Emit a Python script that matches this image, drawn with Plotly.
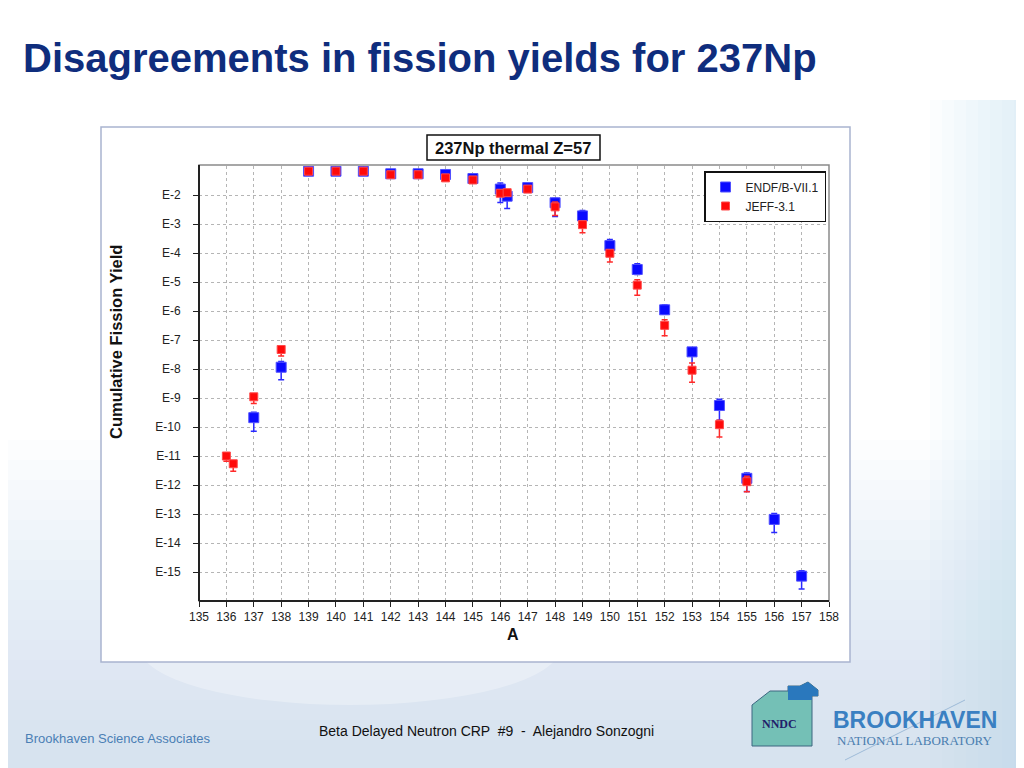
import plotly.graph_objects as go

# ENDF/B-VII.1 cumulative yields (Z=57, 237Np thermal)
ENDF_A = [137, 138, 139, 140, 141, 142, 143, 144, 145, 146, 146.25, 147,
          148, 149, 150, 151, 152, 153, 154, 155, 156, 157]
ENDF_Y = [2.1e-10, 1.15e-8, 6.6e-2, 6.6e-2, 6.6e-2, 5.4e-2, 5.4e-2, 5.1e-2, 3.7e-2,
          1.6e-2, 9.1e-3, 1.8e-2, 5.4e-3, 1.9e-3, 1.8e-4, 2.7e-5, 1.1e-6, 3.9e-8,
          5.5e-10, 1.7e-12, 6.5e-14, 7.2e-16]
ENDF_LO = [7.1e-11, 4.3e-9, None, None, None, None, None, None, None,
           5.5e-3, 3.4e-3, None, 1.8e-3, 1.4e-3, 1.1e-4, 1.8e-5, 7.9e-7, 1.05e-8,
           1.7e-10, 6.0e-13, 2.3e-14, 2.6e-16]
ENDF_HI = [3.2e-10, 1.8e-8, None, None, None, None, None, None, None,
           2.6e-2, 1.25e-2, None, 7.6e-3, 2.9e-3, 2.9e-4, 4.3e-5, 1.6e-6, 5.4e-8,
           9.1e-10, 2.6e-12, 1.05e-13, 1.1e-15]

# JEFF-3.1 cumulative yields
JEFF_A = [136, 136.25, 137, 138, 139, 140, 141, 142, 143, 144, 145, 146, 146.25,
          147, 148, 149, 150, 151, 152, 153, 154, 155]
JEFF_Y = [1.0e-11, 5.4e-12, 1.1e-9, 4.7e-8, 6.6e-2, 6.6e-2, 6.6e-2, 5.0e-2, 5.0e-2,
          3.9e-2, 3.3e-2, 1.15e-2, 1.2e-2, 1.6e-2, 3.9e-3, 9.5e-4, 9.8e-5, 7.8e-6,
          3.2e-7, 9.1e-9, 1.2e-10, 1.3e-12]
JEFF_LO = [6.6e-12, 3.0e-12, 6.5e-10, 2.8e-8, None, None, None, None, None,
           None, None, None, None, None, 1.95e-3, 5.0e-4, 4.9e-5, 3.5e-6,
           1.4e-7, 3.5e-9, 4.5e-11, 5.8e-13]
JEFF_HI = [None, None, 1.2e-9, 6.3e-8, None, None, None, None, None,
           None, None, None, None, None, 5.7e-3, None, None, 1.2e-5,
           5.0e-7, 1.6e-8, 1.7e-10, 2.0e-12]

Y_TICKS = [1e-2, 1e-3, 1e-4, 1e-5, 1e-6, 1e-7, 1e-8, 1e-9, 1e-10,
           1e-11, 1e-12, 1e-13, 1e-14, 1e-15]
Y_TICK_TEXT = ['E-2', 'E-3', 'E-4', 'E-5', 'E-6', 'E-7', 'E-8', 'E-9', 'E-10',
               'E-11', 'E-12', 'E-13', 'E-14', 'E-15']
X_TICKS = list(range(135, 159))

# page body has an 8px margin, keep figure inside the window
OFF = 8
W, H = 1024 - OFF, 768 - OFF
SANS = 'Liberation Sans, Arial'


def px(x):
    return (x - OFF) / W


def py(y):
    return 1 - (y - OFF) / H


def err_arrays(vals, lo, hi):
    plus = [(h - v) if h is not None else 0 for v, h in zip(vals, hi)]
    minus = [(v - l) if l is not None else 0 for v, l in zip(vals, lo)]
    return plus, minus


fig = go.Figure()

e_plus, e_minus = err_arrays(ENDF_Y, ENDF_LO, ENDF_HI)
fig.add_trace(go.Scatter(
    x=ENDF_A, y=ENDF_Y, mode='markers', name='ENDF/B-VII.1',
    marker=dict(symbol='square', size=10, color='#0a0aff',
                line=dict(color='#5050ff', width=1)),
    error_y=dict(type='data', symmetric=False, array=e_plus, arrayminus=e_minus,
                 color='#2a2aff', thickness=1.5, width=3),
))

j_plus, j_minus = err_arrays(JEFF_Y, JEFF_LO, JEFF_HI)
fig.add_trace(go.Scatter(
    x=JEFF_A, y=JEFF_Y, mode='markers', name='JEFF-3.1',
    marker=dict(symbol='square', size=8, color='#ff0a0a',
                line=dict(color='#ff4a4a', width=1)),
    error_y=dict(type='data', symmetric=False, array=j_plus, arrayminus=j_minus,
                 color='#ff2a2a', thickness=1.5, width=3),
))

# soft blue slide background, built from thin translucent bands
shapes = []
for i in range(16):
    top = 440 + i * 20
    shapes.append(dict(type='rect', xref='paper', yref='paper', x0=px(0), x1=px(1024),
                       y0=py(768), y1=py(top), fillcolor='rgba(175,208,234,0.045)',
                       line_width=0, layer='below'))
for i in range(8):
    left = 930 + i * 12
    shapes.append(dict(type='rect', xref='paper', yref='paper', x0=px(left), x1=px(1024),
                       y0=py(768), y1=py(100), fillcolor='rgba(180,210,236,0.05)',
                       line_width=0, layer='below'))
shapes += [
    dict(type='circle', xref='paper', yref='paper', x0=px(140), x1=px(560),
         y0=py(705), y1=py(590), fillcolor='rgba(255,255,255,0.3)', line_width=0,
         layer='below'),
    # chart panel
    dict(type='rect', xref='paper', yref='paper', x0=px(101), x1=px(850),
         y0=py(662), y1=py(127), fillcolor='white',
         line=dict(color='#a9b4cf', width=1.5), layer='below'),
    # plot frame
    dict(type='rect', xref='paper', yref='paper', x0=px(199), x1=px(829),
         y0=py(601), y1=py(165), line=dict(color='#8a8a8a', width=1.5)),
    dict(type='line', xref='paper', yref='paper', x0=px(199), x1=px(199),
         y0=py(601), y1=py(165), line=dict(color='#222', width=2)),
    dict(type='line', xref='paper', yref='paper', x0=px(199), x1=px(829),
         y0=py(601), y1=py(601), line=dict(color='#222', width=2)),
    # title box
    dict(type='rect', xref='paper', yref='paper', x0=px(427), x1=px(600),
         y0=py(160), y1=py(135), fillcolor='white',
         line=dict(color='#111', width=1.5)),
    # NNDC house logo
    dict(type='path', xref='paper', yref='paper',
         path=(f'M {px(752)},{py(746)} L {px(752)},{py(705)} L {px(770)},{py(691)} '
               f'L {px(788)},{py(691)} L {px(788)},{py(686)} L {px(800)},{py(686)} '
               f'L {px(808)},{py(682)} L {px(818)},{py(690)} L {px(818)},{py(696)} '
               f'L {px(812)},{py(696)} L {px(812)},{py(746)} Z'),
         fillcolor='#74c0b6', line=dict(color='#3c6680', width=1)),
    dict(type='path', xref='paper', yref='paper',
         path=(f'M {px(788)},{py(700)} L {px(788)},{py(686)} L {px(800)},{py(686)} '
               f'L {px(808)},{py(682)} L {px(818)},{py(690)} L {px(818)},{py(696)} '
               f'L {px(812)},{py(696)} L {px(812)},{py(700)} Z'),
         fillcolor='#2a78bd', line_width=0),
    dict(type='line', xref='paper', yref='paper', x0=px(845), x1=px(965),
         y0=py(760), y1=py(700), line=dict(color='rgba(120,160,200,0.6)', width=1)),
]

annotations = [
    dict(text='<b>Disagreements in fission yields for 237Np</b>', x=px(21), y=py(58),
         xref='paper', yref='paper', xanchor='left', yanchor='middle', showarrow=False,
         font=dict(family=SANS, size=40, color='#0f2d7d')),
    dict(text='<b>237Np thermal Z=57</b>', x=px(513), y=py(148), xref='paper',
         yref='paper', xanchor='center', yanchor='middle', showarrow=False,
         font=dict(family=SANS, size=16.5, color='#111')),
    dict(text='<b>Cumulative Fission Yield</b>', x=px(116), y=py(342), xref='paper',
         yref='paper', textangle=-90, xanchor='center', yanchor='middle',
         showarrow=False, font=dict(family=SANS, size=16.5, color='#111')),
    dict(text='<b>A</b>', x=px(513), y=py(634), xref='paper', yref='paper',
         xanchor='center', yanchor='middle', showarrow=False,
         font=dict(family=SANS, size=16, color='#111')),
    dict(text='Brookhaven Science Associates', x=px(23), y=py(738), xref='paper',
         yref='paper', xanchor='left', yanchor='middle', showarrow=False,
         font=dict(family=SANS, size=13, color='#4b7fb5')),
    dict(text='Beta Delayed Neutron CRP  #9  -  Alejandro Sonzogni', x=px(486),
         y=py(731), xref='paper', yref='paper', xanchor='center', yanchor='middle',
         showarrow=False, font=dict(family=SANS, size=14, color='#111')),
    dict(text='<b>NNDC</b>', x=px(779), y=py(724), xref='paper', yref='paper',
         xanchor='center', yanchor='middle', showarrow=False,
         font=dict(family='Liberation Serif', size=12, color='#22206a')),
    dict(text='<b>BROOKHAVEN</b>', x=px(915), y=py(720), xref='paper', yref='paper',
         xanchor='center', yanchor='middle', showarrow=False,
         font=dict(family=SANS, size=23, color='#3a80c2')),
    dict(text='NATIONAL LABORATORY', x=px(915), y=py(740), xref='paper', yref='paper',
         xanchor='center', yanchor='middle', showarrow=False,
         font=dict(family='Liberation Serif', size=13, color='#4a7eb0')),
]

fig.update_layout(
    width=W, height=H,
    margin=dict(l=0, r=0, t=0, b=0),
    paper_bgcolor='white', plot_bgcolor='white',
    showlegend=True,
    legend=dict(x=px(704), y=py(171), xanchor='left', yanchor='top',
                bgcolor='white', bordercolor='#111', borderwidth=1.5,
                font=dict(family=SANS, size=12, color='#222'),
                tracegroupgap=2),
    xaxis=dict(domain=[px(199), px(829)], range=[135, 158], tickvals=X_TICKS,
               showgrid=True, gridcolor='#b5b5b5', griddash='dot', gridwidth=1,
               zeroline=False, showline=False, ticks='outside', ticklen=5,
               tickcolor='#222', automargin=False,
               tickfont=dict(family=SANS, size=12, color='#222')),
    yaxis=dict(domain=[py(601), py(166)], type='log', range=[-16, -1],
               tickvals=Y_TICKS, ticktext=Y_TICK_TEXT,
               showgrid=True, gridcolor='#b5b5b5', griddash='dot', gridwidth=1,
               zeroline=False, showline=False, ticks='outside', ticklen=5,
               tickcolor='#222', ticklabelstandoff=10, automargin=False,
               tickfont=dict(family=SANS, size=12, color='#222')),
    shapes=shapes,
    annotations=annotations,
)

fig.write_html('out.html')
